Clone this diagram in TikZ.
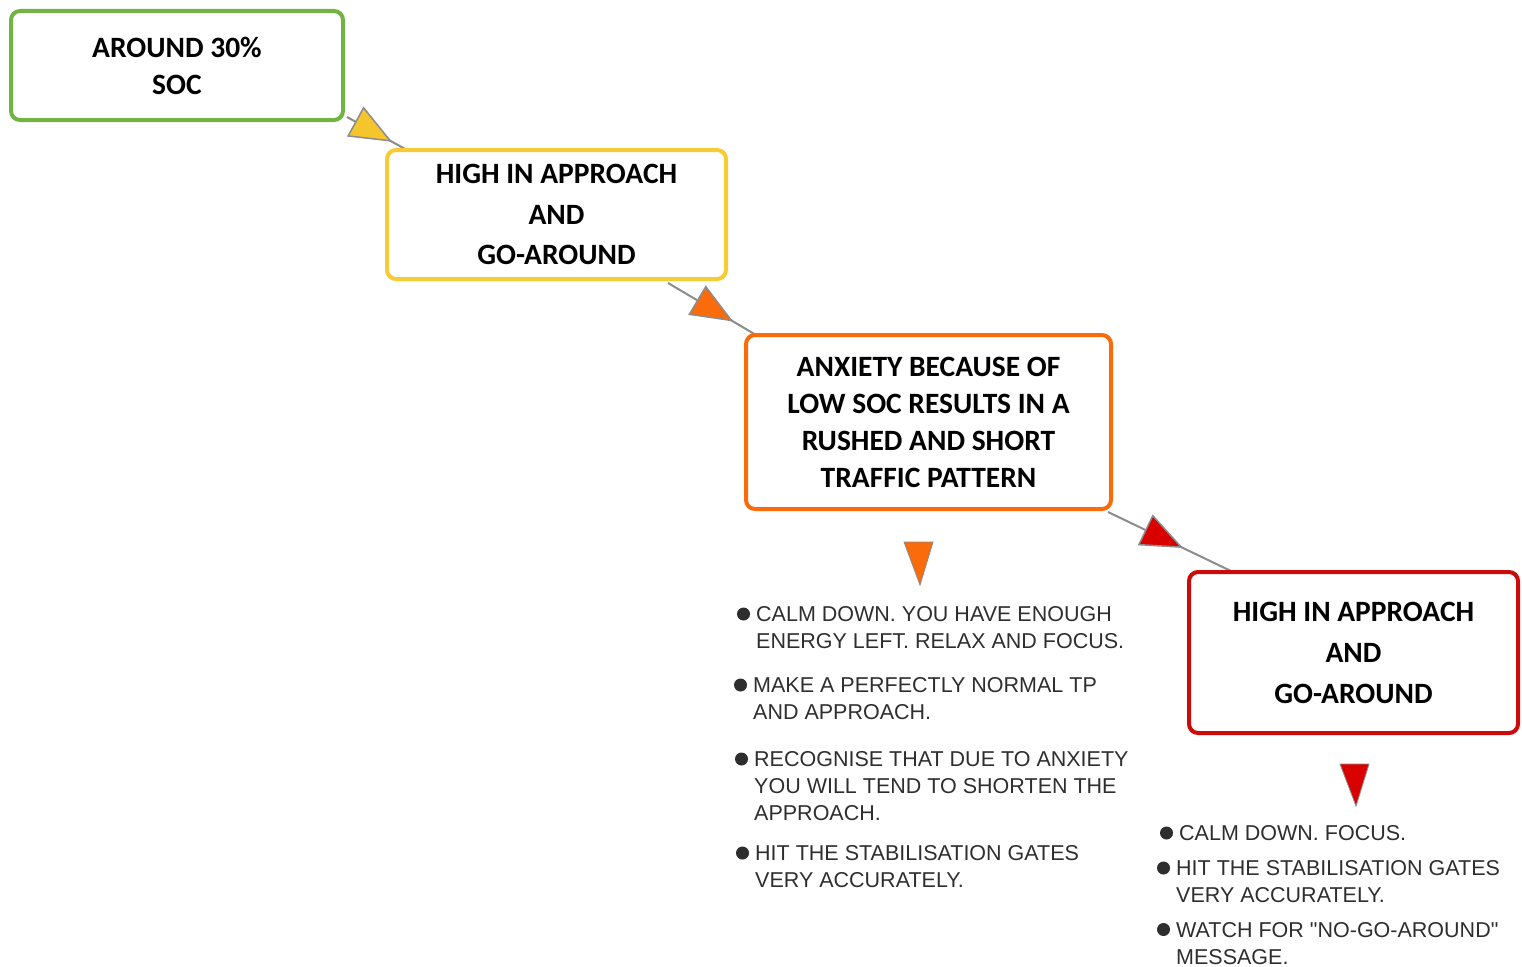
\documentclass[tikz,border=0pt]{standalone}
\usepackage{fontspec}
\setmainfont{Liberation Sans}[Ligatures=TeXOff]
\newfontfamily\calibri{Carlito}
\usetikzlibrary{arrows.meta,decorations.markings,backgrounds,calc}

\definecolor{socgreen}{HTML}{72B443}
\definecolor{socyellow}{HTML}{F8CB34}
\definecolor{socorange}{HTML}{F96B0B}
\definecolor{socred}{HTML}{CC0A0A}
\definecolor{tipyellow}{HTML}{F6C52B}
\definecolor{tipred}{HTML}{D90000}
\definecolor{linegrey}{HTML}{8C8C8C}
\definecolor{txtgrey}{HTML}{2E2E2E}

\tikzset{
  stage/.style={draw=#1, rectangle, rounded corners=9pt, line width=4pt, fill=white,
    inner sep=0pt, align=center, text=black, font=\calibri\bfseries\fontsize{29.5}{37}\selectfont},
  flowline/.style 2 args={draw=linegrey, line width=2pt,
    decoration={markings, mark=at position #1 with
      {\arrow{Triangle[length=42pt,width=34pt,fill=#2,line width=1.5pt]}}},
    postaction={decorate}},
  item/.style={anchor=north west, inner sep=0pt, align=left, text=txtgrey,
    font=\fontsize{21.5}{27}\selectfont}
}

\begin{document}
\begin{tikzpicture}[x=1pt,y=-1pt]
  \useasboundingbox (0,0) rectangle (1522,966);

  % Stages
  \node[stage=socgreen, minimum width=332pt, minimum height=109pt] (soc) at (177,65.5)
    {AROUND 30\%\\SOC};
  \node[stage=socyellow, minimum width=339pt, minimum height=129pt,
    font=\calibri\bfseries\fontsize{29.5}{40.5}\selectfont] (high) at (556.5,214.5)
    {HIGH IN APPROACH\\AND\\GO-AROUND};
  \node[stage=socorange, minimum width=365pt, minimum height=174pt] (anx) at (928.5,422)
    {ANXIETY BECAUSE OF\\LOW SOC RESULTS IN A\\RUSHED AND SHORT\\TRAFFIC PATTERN};
  \node[stage=socred, minimum width=329pt, minimum height=161pt,
    font=\calibri\bfseries\fontsize{29.5}{41}\selectfont] (highb) at (1353.5,652.5)
    {HIGH IN APPROACH\\AND\\GO-AROUND};

  % Links between stages
  \begin{scope}[on background layer]
    \draw[flowline={0.75}{tipyellow}] ($(soc.south east)+(2,-5)$) -- ($(high.north west)+(22,2)$);
    \draw[flowline={0.74}{socorange}] ($(high.south east)+(-60,2)$) -- ($(anx.north west)+(12,2)$);
    \draw[flowline={0.60}{tipred}] ($(anx.south east)+(-5,1)$) -- ($(highb.north west)+(46,2)$);
  \end{scope}

  % Pointers to the advice
  \filldraw[fill=socorange, draw=linegrey, line width=0.8pt] (904,542) -- (933,542) -- (920,585) -- cycle;
  \filldraw[fill=tipred, draw=linegrey, line width=0.8pt] (1340,764) -- (1369,764) -- (1356,806) -- cycle;

  % Advice for the anxiety stage
  \node[item] (o1) at (756,606.5) {CALM DOWN. YOU HAVE ENOUGH\\ENERGY LEFT. RELAX AND FOCUS.};
  \node[item] (o2) at (753,677.5) {MAKE A PERFECTLY NORMAL TP\\AND APPROACH.};
  \node[item] (o3) at (754,751.5) {RECOGNISE THAT DUE TO ANXIETY\\YOU WILL TEND TO SHORTEN THE\\APPROACH.};
  \node[item] (o4) at (755,845.5) {HIT THE STABILISATION GATES\\VERY ACCURATELY.};

  % Advice for the go-around stage
  \node[item] (r1) at (1179,825.5) {CALM DOWN. FOCUS.};
  \node[item] (r2) at (1176,860.5) {HIT THE STABILISATION GATES\\VERY ACCURATELY.};
  \node[item] (r3) at (1176,922) {WATCH FOR "NO-GO-AROUND"\\MESSAGE.};

  % Bullets
  \foreach \n in {o1,o2,o3,o4,r1,r2,r3}
    \fill[txtgrey] ($(\n.north west)+(-12.5,7.5)$) circle (6.5pt);

\end{tikzpicture}
\end{document}
